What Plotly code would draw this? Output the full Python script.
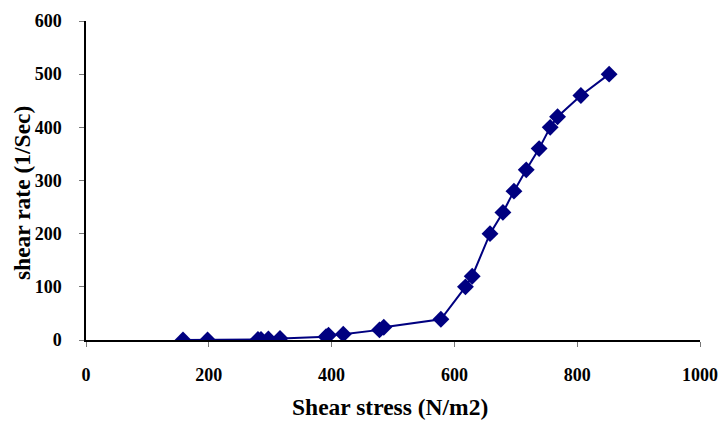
import plotly.graph_objects as go

shear_stress = [158, 198, 280, 285, 297, 316, 391, 395, 419, 478, 485, 578,
                618, 629, 658, 679, 697, 717, 738, 756, 768, 806, 852]
shear_rate = [0, 0, 1, 1, 2, 3, 6, 9, 11, 19, 24, 39,
              100, 120, 200, 240, 280, 320, 360, 400, 420, 460, 500]

x_ticks = [0, 200, 400, 600, 800, 1000]
y_ticks = [0, 100, 200, 300, 400, 500, 600]

x_title = "Shear stress (N/m2)"
y_title = "shear rate (1/Sec)"

font_family = "Liberation Serif"

fig = go.Figure()
fig.add_trace(go.Scatter(
    x=shear_stress, y=shear_rate, mode="lines+markers",
    line=dict(color="#000080", width=2),
    marker=dict(symbol="diamond", size=13, color="#000080"),
    showlegend=False,
))

tickfont = dict(family=font_family, size=18, color="black", weight="bold")

fig.update_layout(
    width=721, height=421,
    margin=dict(l=86, r=21, t=21, b=81, autoexpand=False),
    paper_bgcolor="white", plot_bgcolor="white",
    font=dict(family=font_family, color="black"),
    xaxis=dict(
        range=[0, 1000], tickvals=x_ticks, ticks="outside", ticklen=5,
        tickcolor="#777777", showgrid=False, zeroline=False,
        showline=True, linecolor="black", linewidth=1.5,
        tickfont=tickfont, ticklabelstandoff=13, automargin=False,
    ),
    yaxis=dict(
        range=[0, 600], tickvals=y_ticks, ticks="outside", ticklen=5,
        tickcolor="#777777", showgrid=False, zeroline=False,
        showline=True, linecolor="black", linewidth=1.5,
        tickfont=tickfont, ticklabelstandoff=14, automargin=False,
    ),
    annotations=[
        dict(text="<b>%s</b>" % x_title, xref="paper", yref="paper",
             x=0.495, y=-0.21, xanchor="center", yanchor="middle",
             showarrow=False,
             font=dict(family=font_family, size=23.5, color="black")),
        dict(text="<b>%s</b>" % y_title, xref="paper", yref="paper",
             x=-0.104, y=0.461, xanchor="center", yanchor="middle",
             textangle=-90, showarrow=False,
             font=dict(family=font_family, size=23.5, color="black")),
    ],
)

fig.write_html(
    "out.html",
    config={"displayModeBar": False},
    post_script="document.body.style.margin='0';document.body.style.overflow='hidden';",
)
